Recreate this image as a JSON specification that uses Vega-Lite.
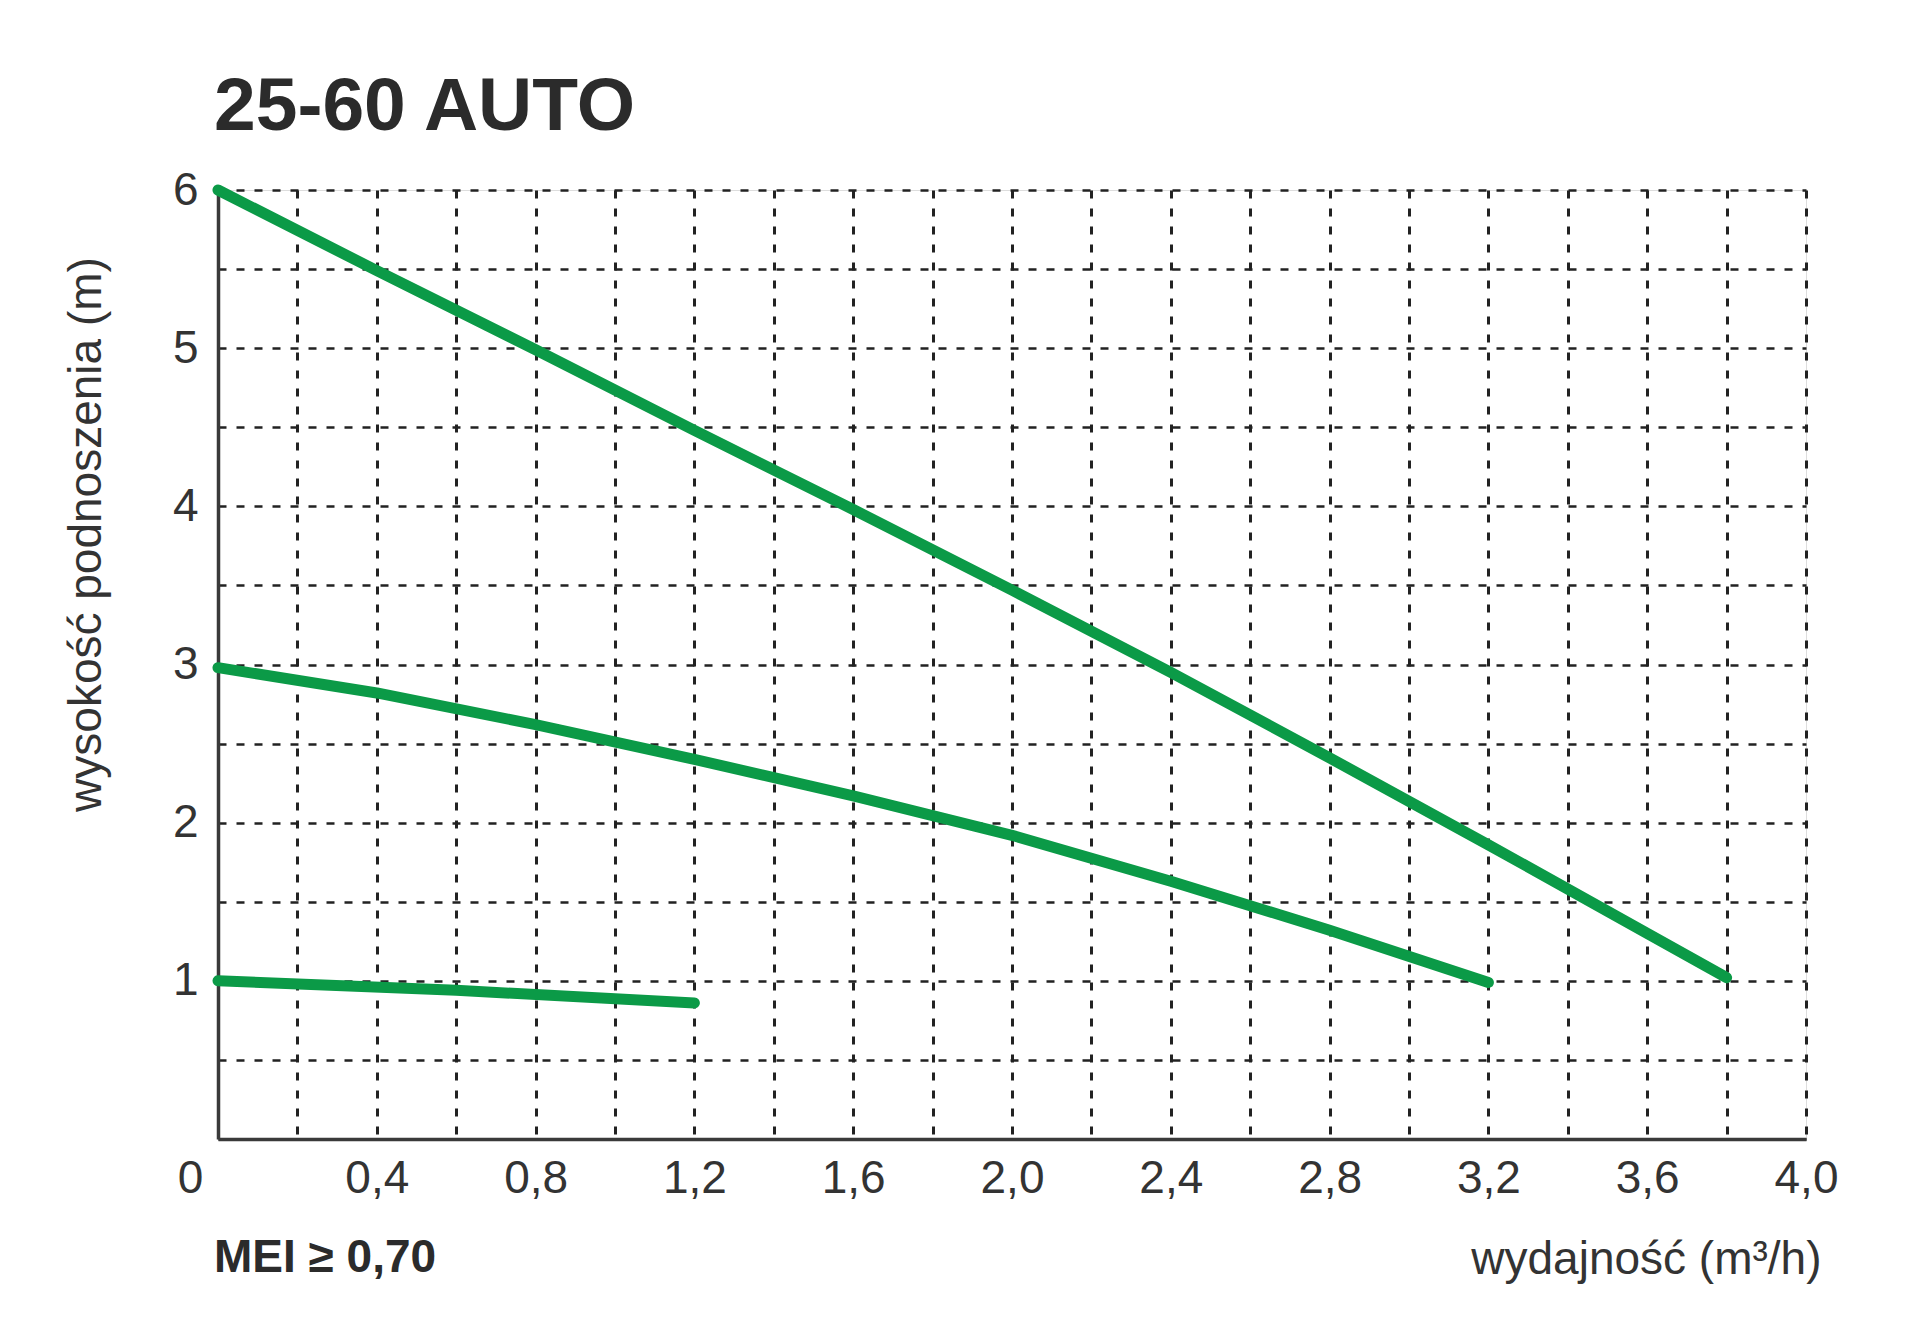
{
  "$schema": "https://vega.github.io/schema/vega-lite/v6.json",
  "width": 1588,
  "height": 949,
  "autosize": {"type": "none"},
  "padding": {"left": 218, "top": 190, "right": 114, "bottom": 198},
  "background": "white",
  "title": {
    "text": "25-60 AUTO",
    "anchor": "start",
    "frame": "group",
    "font": "Liberation Sans",
    "fontWeight": "bold",
    "fontSize": 75,
    "color": "#2b2b2b",
    "baseline": "alphabetic",
    "offset": 35,
    "dx": -4,
    "dy": 73
  },
  "datasets": {
    "curves": [
      {"curve": "max", "q": 0.0, "h": 6.0},
      {"curve": "max", "q": 0.4, "h": 5.49},
      {"curve": "max", "q": 0.8, "h": 4.99},
      {"curve": "max", "q": 1.2, "h": 4.48},
      {"curve": "max", "q": 1.6, "h": 3.98},
      {"curve": "max", "q": 2.0, "h": 3.47},
      {"curve": "max", "q": 2.4, "h": 2.95},
      {"curve": "max", "q": 2.8, "h": 2.41},
      {"curve": "max", "q": 3.2, "h": 1.86},
      {"curve": "max", "q": 3.6, "h": 1.3},
      {"curve": "max", "q": 3.8, "h": 1.02},
      {"curve": "mid", "q": 0.0, "h": 2.98},
      {"curve": "mid", "q": 0.4, "h": 2.82},
      {"curve": "mid", "q": 0.8, "h": 2.62},
      {"curve": "mid", "q": 1.2, "h": 2.4},
      {"curve": "mid", "q": 1.6, "h": 2.17},
      {"curve": "mid", "q": 2.0, "h": 1.92},
      {"curve": "mid", "q": 2.4, "h": 1.63},
      {"curve": "mid", "q": 2.8, "h": 1.32},
      {"curve": "mid", "q": 3.2, "h": 0.99},
      {"curve": "min", "q": 0.0, "h": 1.0},
      {"curve": "min", "q": 0.6, "h": 0.94},
      {"curve": "min", "q": 1.2, "h": 0.86}
    ],
    "notes": [
      {"t": "MEI ≥ 0,70"}
    ]
  },
  "layer": [
    {
      "data": {"name": "curves"},
      "mark": {"type": "line", "color": "#0b9a47", "strokeWidth": 11, "strokeCap": "round", "strokeJoin": "round"},
      "encoding": {
        "x": {
          "field": "q",
          "type": "quantitative",
          "scale": {"domain": [0, 4], "nice": false, "zero": true},
          "axis": {
            "values": [0, 0.2, 0.4, 0.6, 0.8, 1.0, 1.2, 1.4, 1.6, 1.8, 2.0, 2.2, 2.4, 2.6, 2.8, 3.0, 3.2, 3.4, 3.6, 3.8, 4.0],
            "labelExpr": "round(datum.value*5)%2==1 ? '' : (datum.value==0 ? '0' : replace(format(datum.value,'.1f'),'.',','))",
            "labelOffset": {"condition": {"test": "datum.value == 0", "value": -28}, "value": 0},
            "grid": true,
            "gridDash": [8, 10],
            "gridColor": "#222222",
            "gridWidth": 3,
            "domainColor": "#3a3a3a",
            "domainWidth": 3.5,
            "ticks": false,
            "labelPadding": 17,
            "labelFont": "Liberation Sans",
            "labelFontSize": 46,
            "labelColor": "#333333",
            "labelFlush": false,
            "labelOverlap": false,
            "title": "wydajność (m³/h)",
            "titleX": 1603,
            "titleY": 134,
            "titleAlign": "right",
            "titleBaseline": "alphabetic",
            "titleFont": "Liberation Sans",
            "titleFontSize": 46,
            "titleFontWeight": "normal",
            "titleColor": "#333333"
          }
        },
        "y": {
          "field": "h",
          "type": "quantitative",
          "scale": {"domain": [0, 6], "nice": false},
          "axis": {
            "values": [0, 0.5, 1, 1.5, 2, 2.5, 3, 3.5, 4, 4.5, 5, 5.5, 6],
            "labelExpr": "datum.value > 0 && datum.value % 1 == 0 ? format(datum.value, 'd') : ''",
            "grid": true,
            "gridDash": [8, 10],
            "gridColor": "#222222",
            "gridWidth": 2.5,
            "domainColor": "#3a3a3a",
            "domainWidth": 3.5,
            "ticks": false,
            "labelPadding": 20,
            "labelFont": "Liberation Sans",
            "labelFontSize": 46,
            "labelColor": "#333333",
            "labelFlush": false,
            "labelOverlap": false,
            "title": "wysokość podnoszenia (m)",
            "titleX": -132,
            "titleY": 344,
            "titleAngle": -90,
            "titleAlign": "center",
            "titleBaseline": "middle",
            "titleFont": "Liberation Sans",
            "titleFontSize": 46,
            "titleFontWeight": "normal",
            "titleColor": "#333333"
          }
        },
        "detail": {"field": "curve", "type": "nominal"}
      }
    },
    {
      "data": {"name": "notes"},
      "mark": {
        "type": "text",
        "align": "left",
        "baseline": "alphabetic",
        "dx": -4,
        "dy": 133,
        "font": "Liberation Sans",
        "fontWeight": "bold",
        "fontSize": 46,
        "color": "#2b2b2b"
      },
      "encoding": {
        "x": {"datum": 0, "type": "quantitative"},
        "y": {"datum": 0, "type": "quantitative"},
        "text": {"field": "t"}
      }
    }
  ]
}
